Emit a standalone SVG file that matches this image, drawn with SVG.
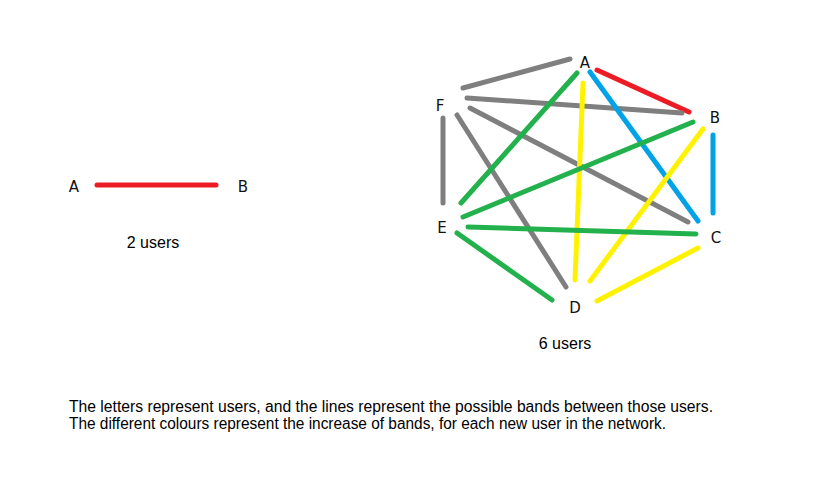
<svg xmlns="http://www.w3.org/2000/svg" width="835" height="486" viewBox="0 0 835 486">
<style>
.e{stroke-width:5;stroke-linecap:round;fill:none}
.r{stroke:#ed1c24}.g{stroke:#7f7f7f}.gr{stroke:#22b14c}.y{stroke:#fff200}.b{stroke:#00a2e8}
.lbl{font-family:"DejaVu Sans",sans-serif;font-size:15px;fill:#111;text-anchor:middle}
.t{font-family:"Liberation Sans",Arial,sans-serif;font-size:16px;fill:#000}
</style>
<rect width="835" height="486" fill="#fff"/>
<g id="connectors">
<line class="e r" x1="97" y1="185" x2="216" y2="185"/>
<line class="e g" x1="463" y1="88" x2="570" y2="59"/>
<line class="e r" x1="597" y1="70" x2="689" y2="112"/>
<line class="e g" x1="467" y1="98" x2="682" y2="113"/>
<line class="e g" x1="470" y1="108" x2="688" y2="222"/>
<line class="e g" x1="457" y1="115" x2="566" y2="287"/>
<line class="e g" x1="443" y1="118" x2="443" y2="203"/>
<line class="e gr" x1="577" y1="73" x2="461" y2="203"/>
<line class="e y" x1="583" y1="83" x2="575" y2="280"/>
<line class="e b" x1="590" y1="72" x2="698" y2="221"/>
<line class="e gr" x1="693" y1="122" x2="463" y2="217"/>
<line class="e y" x1="703" y1="129" x2="590" y2="281"/>
<line class="e b" x1="713" y1="135" x2="713" y2="213"/>
<line class="e gr" x1="468" y1="227" x2="696" y2="234"/>
<line class="e gr" x1="457" y1="233" x2="552" y2="300"/>
<line class="e y" x1="698" y1="248" x2="597" y2="301"/>
</g>
<g id="A2"><text class="lbl" x="74" y="192">A</text></g>
<g id="B2"><text class="lbl" x="243" y="192">B</text></g>
<g id="A"><text class="lbl" x="585" y="68">A</text></g>
<g id="B"><text class="lbl" x="715" y="123">B</text></g>
<g id="C"><text class="lbl" x="716" y="243">C</text></g>
<g id="D"><text class="lbl" x="575" y="313">D</text></g>
<g id="E"><text class="lbl" x="442" y="233">E</text></g>
<g id="F"><text class="lbl" x="440" y="111">F</text></g>
<text class="t" x="153" y="248" text-anchor="middle">2 users</text>
<text class="t" x="565" y="349" text-anchor="middle">6 users</text>
<text class="t" x="69" y="412" textLength="644" lengthAdjust="spacingAndGlyphs">The letters represent users, and the lines represent the possible bands between those users.</text>
<text class="t" x="69" y="429" textLength="597" lengthAdjust="spacingAndGlyphs">The different colours represent the increase of bands, for each new user in the network.</text>
</svg>
